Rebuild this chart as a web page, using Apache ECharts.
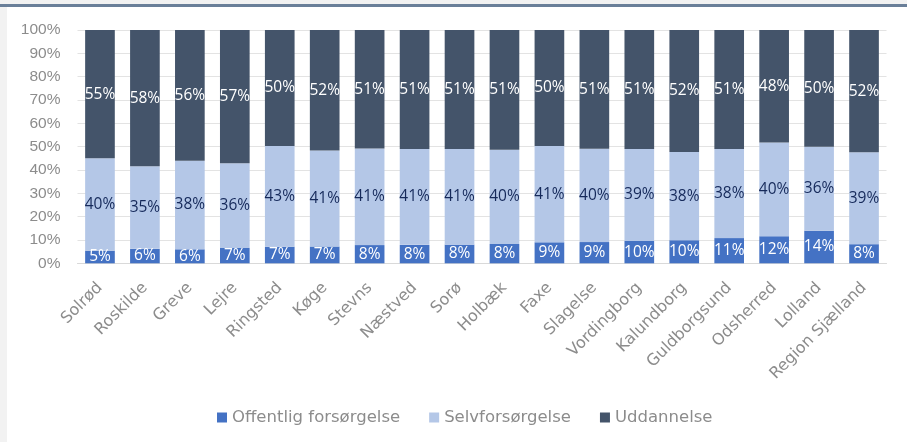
<!DOCTYPE html>
<html>
<head>
<meta charset="utf-8">
<script src="https://cdn.jsdelivr.net/npm/echarts@6/dist/echarts.min.js"></script>
<style>html,body{margin:0;padding:0;background:#fff}#c{width:907px;height:442px}</style>
</head>
<body>
<div id="c"></div>
<script>
var categories = ["Solrød","Roskilde","Greve","Lejre","Ringsted","Køge","Stevns","Næstved","Sorø","Holbæk","Faxe","Slagelse","Vordingborg","Kalundborg","Guldborgsund","Odsherred","Lolland","Region Sjælland"];
var offentlig = [5.4,6.2,6.0,6.6,7.1,7.2,7.8,7.9,8.0,8.3,9.0,9.1,9.6,9.9,10.8,11.6,14.0,8.2];
var selv      = [39.6,35.4,38.0,36.3,43.2,41.2,41.4,41.1,41.0,40.4,41.3,40.0,39.4,37.8,38.2,40.2,36.0,39.4];
var udd       = [55.0,58.4,56.0,57.1,49.7,51.6,50.8,51.0,51.0,51.3,49.7,50.9,51.0,52.3,51.0,48.2,50.0,52.4];
var yTicks = [0,10,20,30,40,50,60,70,80,90,100];

var chart = echarts.init(document.getElementById('c'));
var axisFont = 'DejaVu Sans';
var labFont = 'Open Sans';
var yFont = 'Liberation Sans';
function lbl(color){
  return {show:true, position:'inside', color:color, fontFamily:labFont, fontSize:15.5,
    formatter:function(p){return Math.round(p.value)+'%';}};
}
chart.setOption({
  animation:false,
  graphic:[
    {type:'rect', shape:{x:0,y:0,width:907,height:4}, style:{fill:'#f2f2f2'}, silent:true},
    {type:'rect', shape:{x:0,y:4,width:907,height:3}, style:{fill:'#6a7f99'}, silent:true},
    {type:'rect', shape:{x:0,y:7,width:7,height:435}, style:{fill:'#f2f2f2'}, silent:true}
  ],
  grid:{left:77.5, right:20.5, top:30, bottom:178.7, containLabel:false},
  legend:{
    bottom:11, left:212, itemWidth:10, itemHeight:10, itemGap:29,
    icon:'rect', textStyle:{color:'#8c8c8c', fontFamily:axisFont, fontSize:16.5},
    data:['Offentlig forsørgelse','Selvforsørgelse','Uddannelse']
  },
  xAxis:{
    type:'category', data:categories,
    axisLine:{lineStyle:{color:'#d9d9d9'}}, axisTick:{show:false},
    axisLabel:{rotate:45, color:'#8c8c8c', fontFamily:axisFont, fontSize:16, margin:22, interval:0}
  },
  yAxis:{
    type:'value', min:0, max:100, interval:10,
    axisLine:{show:false}, axisTick:{show:false},
    splitLine:{lineStyle:{color:'#e3e3e3'}},
    axisLabel:{color:'#8c8c8c', fontFamily:yFont, fontSize:15.5, margin:17,
      formatter:function(v){return yTicks.indexOf(v)>=0 ? v+'%' : '';}}
  },
  series:[
    {name:'Offentlig forsørgelse', type:'bar', stack:'a', data:offentlig, barWidth:'66%',
      itemStyle:{color:'#4472c4'}, label:lbl('#ffffff')},
    {name:'Selvforsørgelse', type:'bar', stack:'a', data:selv,
      itemStyle:{color:'#b4c7e7'}, label:lbl('#15295a')},
    {name:'Uddannelse', type:'bar', stack:'a', data:udd,
      itemStyle:{color:'#44546a'}, label:lbl('#ffffff')}
  ]
});
</script>
</body>
</html>
